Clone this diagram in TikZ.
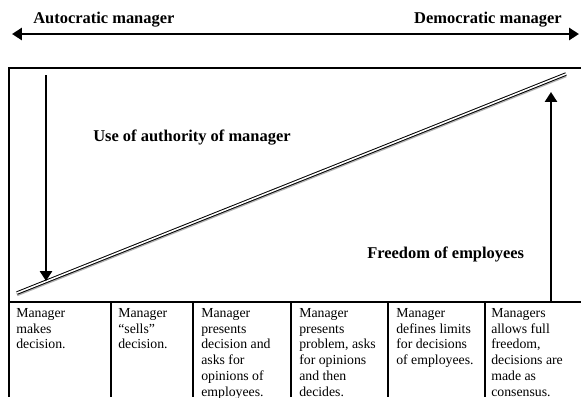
\documentclass[tikz,border=0pt]{standalone}
\usepackage{fontspec}
\setmainfont{Liberation Serif}
\usetikzlibrary{arrows.meta}
\tikzset{
  heading/.style={inner sep=0pt,font=\fontsize{11.7}{14}\selectfont\bfseries},
  cell/.style={anchor=north west,inner sep=0pt,align=left,font=\fontsize{9.8}{11.2}\selectfont},
  tip/.style={-{Triangle[length=7pt,width=8.5pt]}},
  tips/.style={{Triangle[length=7pt,width=8.5pt]}-{Triangle[length=7pt,width=8.5pt]}}
}
\begin{document}
\begin{tikzpicture}[x=0.025cm,y=-0.025cm]
\useasboundingbox (0,0) rectangle (581,397);
% scale from autocratic to democratic
\coordinate (L) at (12,34);
\coordinate (R) at (579,34);
\draw[tips,line width=1.7pt] (L) -- (R);
\node[heading,anchor=base west] (auto) at (33,23) {Autocratic manager};
\node[heading,anchor=base east] (demo) at (562,23) {Democratic manager};
% frame and table
\draw[line width=1.5pt] (581,68) -- (9,68) -- (9,397) (9,302) -- (581,302);
\foreach \x in {111,193,291,388,485} \draw[line width=1.5pt] (\x,302) -- (\x,397);
% the dividing line
\coordinate (lo) at (17,293);
\coordinate (hi) at (566,74);
\draw[line width=2.2pt,black!30] ([yshift=-1.2pt]lo) -- ([yshift=-1.2pt]hi);
\draw[double=white,double distance=1.1pt,line width=0.7pt] (lo) -- (hi);
% authority and freedom
\coordinate (a0) at (46,75);
\coordinate (a1) at (46,281);
\draw[tip,line width=1.6pt] (a0) -- (a1);
\coordinate (f0) at (551,302);
\coordinate (f1) at (551,92);
\draw[tip,line width=1.6pt] (f0) -- (f1);
\node[heading,anchor=base west] (use) at (93,141) {Use of authority of manager};
\node[heading,anchor=base west] (free) at (367,258) {Freedom of employees};
% behaviours
\node[cell] (c1) at (16,308) {Manager\\makes\\decision.};
\node[cell] (c2) at (118,308) {Manager\\``sells''\\decision.};
\node[cell] (c3) at (201,308) {Manager\\presents\\decision and\\asks for\\opinions of\\employees.};
\node[cell] (c4) at (299,308) {Manager\\presents\\problem, asks\\for opinions\\and then\\decides.};
\node[cell] (c5) at (396,308) {Manager\\defines limits\\for decisions\\of employees.};
\node[cell] (c6) at (491,308) {Managers\\allows full\\freedom,\\decisions are\\made as\\consensus.};
\end{tikzpicture}
\end{document}
